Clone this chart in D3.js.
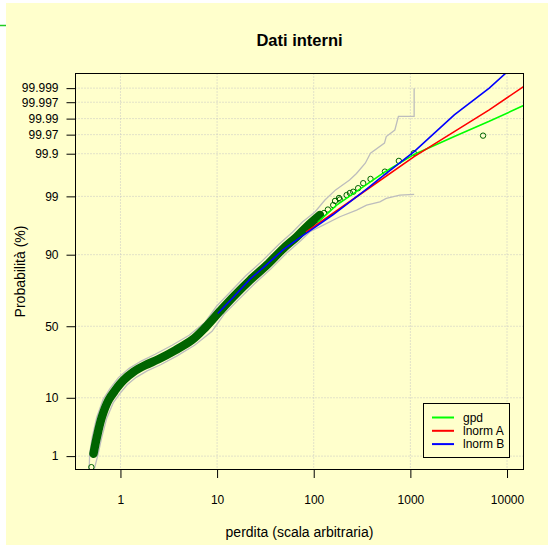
<!DOCTYPE html>
<html><head><meta charset="utf-8">
<script src="https://cdn.jsdelivr.net/npm/d3@7"></script>
<style>
html,body{margin:0;padding:0;background:#ffffff;}
svg{display:block;}
text{font-family:"Liberation Sans",Arial,Helvetica,sans-serif;fill:#000;}
</style>
</head><body>
<svg id="chart" width="548" height="545"></svg>
<script>
// ---------- data ----------
const chartTitle = "Dati interni";
const xTitle = "perdita (scala arbitraria)";
const yTitle = "Probabilità (%)";

const xTickValues = [1, 10, 100, 1000, 10000];
const xTickLabels = ["1", "10", "100", "1000", "10000"];
const yTickValues = [1, 10, 50, 90, 99, 99.9, 99.97, 99.99, 99.997, 99.999];
const yTickLabels = ["1", "10", "50", "90", "99", "99.9", "99.97", "99.99", "99.997", "99.999"];

// dense empirical observations (loss, cumulative probability %)
const bandLoss = [0.50, 0.526, 0.57, 0.642, 0.751, 0.882, 1.074, 1.36, 1.80, 2.47, 3.68, 5.47, 7.60, 10.7, 14.7, 21.9, 32.6, 48.4, 66.6, 84.5, 116];
const bandPct  = [0.58, 1.12, 2.35, 5.19, 9.21, 12.55, 16.63, 20.6, 24.2, 27.7, 33.3, 40.1, 49.3, 60.6, 70.05, 79.5, 86.3, 91.8, 94.54, 96.26, 97.68];

// sparser tail observations
const tailLoss = [95.8, 110.5, 127.5, 140.2, 159, 166.1, 182.6, 186.5, 219, 236.7, 256, 288, 325, 387, 545, 760, 1086, 5650];
const tailPct  = [96.90, 97.37, 97.87, 98.17, 98.50, 98.76, 98.92, 98.84, 99.06, 99.15, 99.20, 99.33, 99.48, 99.583, 99.719, 99.847, 99.903, 99.968];

// confidence envelope (grey)
const upperLoss = [0.4747, 0.4804, 0.5098, 0.5675, 0.6626, 0.7825, 0.958, 1.230, 1.656, 2.285, 3.422, 5.130, 7.508, 9.870, 13.45, 19.92, 29.50, 43.68, 60.23, 76.41, 102.9, 130.6, 168.4, 235.0, 276.9, 341.5, 386.5, 539.4, 562.9, 690.8, 752.4, 1094, 1094];
const upperPct  = [0.514, 1.13, 2.32, 5.12, 9.51, 13.3, 18.0, 22.55, 26.8, 30.8, 36.65, 43.6, 52.9, 64.0, 72.6, 81.8, 88.0, 92.9, 95.4, 96.9, 97.96, 98.81, 99.27, 99.56, 99.69, 99.825, 99.903, 99.948, 99.966, 99.978, 99.9915, 99.9915, 99.999];
const lowerLoss = [0.5348, 0.5881, 0.6393, 0.7201, 0.8406, 0.981, 1.173, 1.453, 1.888, 2.603, 3.855, 5.847, 8.867, 11.80, 16.19, 24.09, 35.85, 53.23, 73.21, 91.36, 125.4, 186.6, 277.6, 352.2, 483.4, 562.9, 778.2, 1094];
const lowerPct  = [0.514, 1.11, 2.27, 4.94, 8.49, 11.3, 14.7, 18.0, 21.2, 24.5, 29.8, 36.7, 46.4, 58.5, 67.5, 77.4, 84.7, 90.7, 93.7, 95.47, 96.50, 97.51, 98.13, 98.50, 98.71, 98.90, 99.06, 99.09];

// fitted distributions
const gpdLoss = [110.5, 172.5, 300.2, 544.5, 1094, 2847, 6546, 14810];
const gpdPct  = [96.90, 98.50, 99.30, 99.714, 99.8956, 99.9663, 99.98787, 99.99613];
const lnormALoss = [83.08, 300.2, 1094, 2847, 6546, 14810];
const lnormAPct  = [95.42, 99.085, 99.8809, 99.9755, 99.99467, 99.99912];
const lnormBLoss = [10.16, 14.72, 21.91, 32.61, 48.39, 72.0, 107.2, 159.1, 236.7, 352.2, 483.4, 1094, 2847, 6546, 11185];
const lnormBPct  = [59.0, 69.86, 80.05, 86.5, 91.5, 94.39, 96.36, 97.73, 98.70, 99.30, 99.594, 99.9118, 99.99236, 99.999, 99.999817];

const seriesNames  = ["gpd", "lnorm A", "lnorm B"];
const seriesColors = ["#00ff00", "#ff0000", "#0000ff"];

// ---------- helpers ----------
function qnorm(p) {
  const a = [-3.969683028665376e+01, 2.209460984245205e+02, -2.759285104469687e+02, 1.383577518672690e+02, -3.066479806614716e+01, 2.506628277459239e+00];
  const b = [-5.447609879822406e+01, 1.615858368580409e+02, -1.556989798598866e+02, 6.680131188771972e+01, -1.328068155288572e+01];
  const c = [-7.784894002430293e-03, -3.223964580411365e-01, -2.400758277161838e+00, -2.549671348660163e+00, 4.374664141464968e+00, 2.938163982698783e+00];
  const d = [7.784695709041462e-03, 3.224671290700398e-01, 2.445134137142996e+00, 3.754408661907416e+00];
  const plow = 0.02425, phigh = 1 - plow;
  let q, r;
  if (p < plow) {
    q = Math.sqrt(-2 * Math.log(p));
    return (((((c[0]*q+c[1])*q+c[2])*q+c[3])*q+c[4])*q+c[5]) / ((((d[0]*q+d[1])*q+d[2])*q+d[3])*q+1);
  } else if (p <= phigh) {
    q = p - 0.5; r = q*q;
    return (((((a[0]*r+a[1])*r+a[2])*r+a[3])*r+a[4])*r+a[5])*q / (((((b[0]*r+b[1])*r+b[2])*r+b[3])*r+b[4])*r+1);
  } else {
    q = Math.sqrt(-2 * Math.log(1 - p));
    return -(((((c[0]*q+c[1])*q+c[2])*q+c[3])*q+c[4])*q+c[5]) / ((((d[0]*q+d[1])*q+d[2])*q+d[3])*q+1);
  }
}
const zip = (xs, ys) => xs.map((v, i) => ({loss: v, pct: ys[i]}));

// ---------- layout ----------
const svg = d3.select("#chart");
const L = 75.5, T = 73.5, R = 523.5, B = 469.5;

const x = d3.scaleLog().domain([0.3427, 14810]).range([L, R]);
const yz = d3.scaleLinear().domain([-2.566, 4.527]).range([B, T]);
const y = pct => yz(qnorm(pct / 100));

// page background
svg.append("rect").attr("x", 0).attr("y", 0).attr("width", 548).attr("height", 545).attr("fill", "#ffffff");
svg.append("rect").attr("x", 6).attr("y", 3).attr("width", 542).attr("height", 542).attr("fill", "#ffffcc");
svg.append("line").attr("x1", 0).attr("x2", 6).attr("y1", 25.5).attr("y2", 25.5)
  .attr("stroke", "#22cc22").attr("stroke-width", 1.5);

svg.append("defs").append("clipPath").attr("id", "plotclip")
  .append("rect").attr("x", L).attr("y", T).attr("width", R - L).attr("height", B - T);

// grid
const grid = svg.append("g").attr("stroke", "#c4c4c4").attr("stroke-width", 1).attr("stroke-dasharray", "1,2");
grid.selectAll("line.vx").data(xTickValues).enter().append("line")
  .attr("x1", d => x(d)).attr("x2", d => x(d)).attr("y1", T).attr("y2", B);
grid.selectAll("line.hy").data(yTickValues).enter().append("line")
  .attr("x1", L).attr("x2", R).attr("y1", d => y(d)).attr("y2", d => y(d));

const plot = svg.append("g").attr("clip-path", "url(#plotclip)");
const lineGen = d3.line().x(d => x(d.loss)).y(d => y(d.pct));

// confidence envelope
[zip(upperLoss, upperPct), zip(lowerLoss, lowerPct)].forEach(arr => {
  plot.append("path").datum(arr).attr("d", lineGen)
    .attr("fill", "none").attr("stroke", "#bdbdbd").attr("stroke-width", 1.3);
});

// dense observations band
const band = zip(bandLoss, bandPct);
plot.append("path").datum(band.slice(1))
  .attr("d", d3.line().x(d => x(d.loss)).y(d => y(d.pct)).curve(d3.curveCatmullRom.alpha(0.5)))
  .attr("fill", "none").attr("stroke", "#006400").attr("stroke-width", 8.5)
  .attr("stroke-linecap", "round").attr("stroke-linejoin", "round");

// points
plot.selectAll("circle.obs").data(band.concat(zip(tailLoss, tailPct))).enter().append("circle")
  .attr("cx", d => x(d.loss)).attr("cy", d => y(d.pct)).attr("r", 2.7)
  .attr("fill", "none").attr("stroke", "#006400").attr("stroke-width", 1);

// fitted lines
const fits = [zip(gpdLoss, gpdPct), zip(lnormALoss, lnormAPct), zip(lnormBLoss, lnormBPct)];
fits.forEach((arr, i) => {
  plot.append("path").datum(arr).attr("d", lineGen)
    .attr("fill", "none").attr("stroke", seriesColors[i]).attr("stroke-width", 1.6);
});

// axes
const yAxis = d3.axisLeft(yz)
  .tickValues(yTickValues.map(p => qnorm(p / 100)))
  .tickFormat((d, i) => yTickLabels[i])
  .tickSize(9).tickPadding(8);
svg.append("g").attr("transform", `translate(${L},0)`).call(yAxis)
  .call(g => g.select(".domain").remove())
  .call(g => g.selectAll("text").attr("font-size", 12).attr("font-family", null))
  .call(g => g.selectAll("line").attr("stroke", "#000"));

const xAxis = d3.axisBottom(x).tickValues(xTickValues)
  .tickFormat((d, i) => xTickLabels[i]).tickSize(8.5).tickPadding(17.5);
svg.append("g").attr("transform", `translate(0,${B})`).call(xAxis)
  .call(g => g.select(".domain").remove())
  .call(g => g.selectAll("text").attr("font-size", 12).attr("font-family", null))
  .call(g => g.selectAll("line").attr("stroke", "#000"));

// box
svg.append("rect").attr("x", L).attr("y", T).attr("width", R - L).attr("height", B - T)
  .attr("fill", "none").attr("stroke", "#000").attr("stroke-width", 1);

// titles
svg.append("text").attr("x", 299.5).attr("y", 45.5).attr("text-anchor", "middle")
  .attr("font-size", 16.5).attr("font-weight", "bold").text(chartTitle);
svg.append("text").attr("x", 299.5).attr("y", 537).attr("text-anchor", "middle")
  .attr("font-size", 14).text(xTitle);
svg.append("text").attr("transform", `translate(25,${(T + B) / 2}) rotate(-90)`)
  .attr("text-anchor", "middle").attr("font-size", 14).text(yTitle);

// legend
const lg = svg.append("g");
lg.append("rect").attr("x", 423.5).attr("y", 403.5).attr("width", 86).attr("height", 54)
  .attr("fill", "#ffffcc").attr("stroke", "#000").attr("stroke-width", 1);
seriesNames.forEach((name, i) => {
  const yy = 417.5 + i * 13.3;
  lg.append("line").attr("x1", 432).attr("x2", 454).attr("y1", yy).attr("y2", yy)
    .attr("stroke", seriesColors[i]).attr("stroke-width", 2);
  lg.append("text").attr("x", 463).attr("y", yy + 4.3).attr("font-size", 12).text(name);
});
</script>
</body></html>
